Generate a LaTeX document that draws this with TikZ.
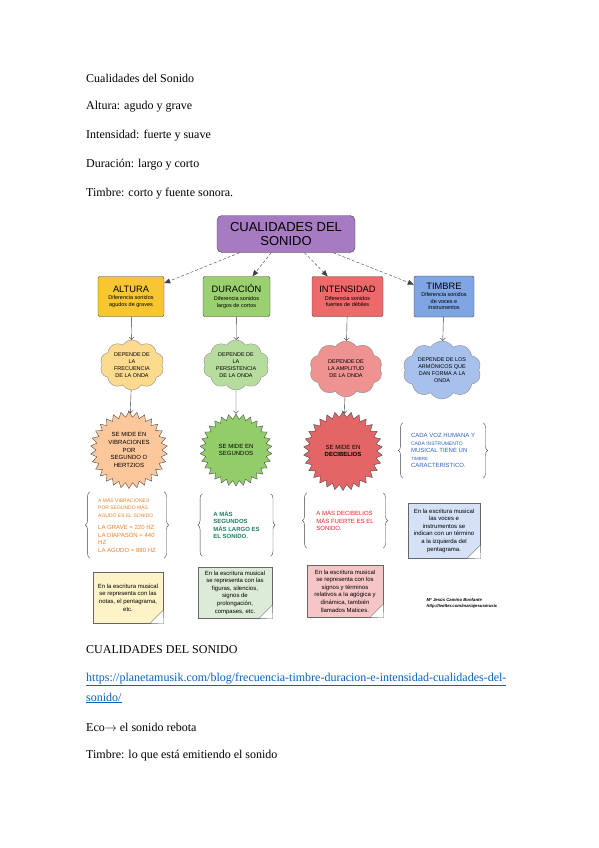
\documentclass[tikz,border=0pt]{standalone}
\usepackage{fontspec}
\setmainfont{Liberation Serif}
\newfontfamily\arial{Liberation Sans}
\usetikzlibrary{positioning}
\usetikzlibrary{shapes.geometric, shapes.symbols, arrows.meta, positioning, decorations.pathreplacing}

\definecolor{morado}{HTML}{A77BC2}
\definecolor{amarillo}{HTML}{F8C630}
\definecolor{verde}{HTML}{9AD06F}
\definecolor{rojo}{HTML}{EC6A6A}
\definecolor{azul}{HTML}{7FA5E2}
\definecolor{nubeAmarilla}{HTML}{FCDA8E}
\definecolor{nubeVerde}{HTML}{B7DD9E}
\definecolor{nubeRoja}{HTML}{EE9292}
\definecolor{nubeAzul}{HTML}{A8C1EC}
\definecolor{solNaranja}{HTML}{FCC79A}
\definecolor{solVerde}{HTML}{92CD69}
\definecolor{solRojo}{HTML}{E46565}
\definecolor{letraNaranja}{HTML}{F08020}
\definecolor{letraVerde}{HTML}{1E7D66}
\definecolor{letraRoja}{HTML}{E32222}
\definecolor{letraAzul}{HTML}{2E5FCF}
\definecolor{notaAmarilla}{HTML}{FDF3C7}
\definecolor{notaVerde}{HTML}{DCEBD8}
\definecolor{notaRoja}{HTML}{F6C6C6}
\definecolor{notaAzul}{HTML}{D4E1F6}
\definecolor{enlace}{HTML}{0563C1}

\tikzstyle{rama} = [densely dashed, black!75, -{Triangle[length=6pt,width=5pt]}]
\tikzstyle{flecha} = [black!80, -{Straight Barb[length=2.5pt,width=5pt]}]
\tikzstyle{caja} = [draw=black!75, rounded corners=2pt, align=center, inner sep=1pt, font=\arial\fontsize{5.5}{6.6}\selectfont]
\tikzstyle{nube} = [cloud, cloud puffs=10, cloud puff arc=115, cloud ignores aspect, draw=black!45, align=center, inner sep=0pt, font=\arial\fontsize{5.5}{7}\selectfont]
\tikzstyle{sol} = [star, star points=30, star point ratio=1.17, draw=black!70, align=center, inner sep=0pt, font=\arial\fontsize{6}{7.8}\selectfont]
\tikzstyle{llave} = [align=left, inner sep=0pt, font=\arial\fontsize{6}{7.5}\selectfont]
\tikzstyle{corchete} = [decorate, decoration={brace, amplitude=4.5pt}, black!75]
\tikzstyle{nota} = [draw=black!60, align=center, inner sep=0pt, font=\arial\fontsize{6}{7.6}\selectfont]
\tikzstyle{linea} = [anchor=west, inner sep=0pt, font=\fontsize{12}{20}\selectfont]

\begin{document}
\begin{tikzpicture}[x=1pt, y=-1pt]
    \fill[white] (0,0) rectangle (599,848);
    \useasboundingbox (0,0) rectangle (599,848);

    % Texto de la pagina
    \node[linea] (t1) at (86,78) {Cualidades del Sonido};
    \node[linea] (t2) at (86,107) {Altura: agudo y grave};
    \node[linea] (t3) at (86,136) {Intensidad: fuerte y suave};
    \node[linea] (t4) at (86,165) {Duración: largo y corto};
    \node[linea] (t5) at (86,194) {Timbre: corto y fuente sonora.};

    % Nodes
    \node[caja, fill=morado, rounded corners=5pt, minimum width=138pt, minimum height=37pt,
          font=\arial\fontsize{13}{14}\selectfont] (titulo) at (286,234) {CUALIDADES DEL\\SONIDO};

    \node[caja, fill=amarillo, minimum width=66pt, minimum height=40pt] (altura) at (131,296.5)
        {{\fontsize{9.3}{11}\selectfont ALTURA}\\[1pt]Diferencia sonidos\\agudos de graves};
    \node[caja, fill=verde, minimum width=67pt, minimum height=40pt] (duracion) at (236.5,296.5)
        {{\fontsize{9.3}{11}\selectfont DURACIÓN}\\[1pt]Diferencia sonidos\\largos de cortos};
    \node[caja, fill=rojo, minimum width=71pt, minimum height=40pt] (intensidad) at (347.5,296.5)
        {{\fontsize{9.3}{11}\selectfont INTENSIDAD}\\[1pt]Diferencia sonidos\\fuertes de débiles};
    \node[caja, fill=azul, minimum width=60pt, minimum height=41pt] (timbre) at (444,296.5)
        {{\fontsize{9.3}{11}\selectfont TIMBRE}\\[0.5pt]Diferencia sonidos\\de voces e\\instrumentos};

    \node[nube, fill=nubeAmarilla, minimum width=64pt, minimum height=50pt] (nubeAltura) at (132,365)
        {DEPENDE DE\\LA\\FRECUENCIA\\DE LA ONDA};
    \node[nube, fill=nubeVerde, minimum width=66pt, minimum height=50pt] (nubeDuracion) at (236,365)
        {DEPENDE DE\\LA\\PERSISTENCIA\\DE LA ONDA};
    \node[nube, fill=nubeRoja, minimum width=73pt, minimum height=56pt] (nubeIntensidad) at (346,369)
        {DEPENDE DE\\LA AMPLITUD\\DE LA ONDA};
    \node[nube, fill=nubeAzul, minimum width=78pt, minimum height=58pt] (nubeTimbre) at (442,370)
        {DEPENDE DE LOS\\ARMÓNICOS QUE\\DAN FORMA A LA\\ONDA};

    \node[sol, fill=solNaranja, minimum size=77pt] (solAltura) at (129,450)
        {SE MIDE EN\\VIBRACIONES\\POR\\SEGUNDO O\\HERTZIOS};
    \node[sol, fill=solVerde, minimum size=72pt] (solDuracion) at (236,450)
        {SE MIDE EN\\SEGUNDOS};
    \node[sol, fill=solRojo, minimum size=79pt] (solIntensidad) at (343,451)
        {SE MIDE EN\\\bfseries DECIBELIOS};

    \node[llave, text=letraAzul, minimum width=80pt, minimum height=55pt] (llaveTimbre) at (443,450.5)
        {CADA VOZ HUMANA Y\\{\fontsize{5}{7.5}\selectfont CADA INSTRUMENTO}\\MUSICAL TIENE UN\\{\fontsize{4.5}{7.5}\selectfont TIMBRE}\\CARACTERÍSTICO.};
    \node[llave, text=letraNaranja, minimum width=74pt, minimum height=66pt] (llaveAltura) at (127,525)
        {{\fontsize{5}{6}\selectfont A MÁS VIBRACIONES}\\{\fontsize{5}{6}\selectfont POR SEGUNDO MÁS}\\{\fontsize{5}{6}\selectfont AGUDO ES EL SONIDO}\\[5pt]
         LA GRAVE = 220 HZ\\LA DIAPASÓN = 440\\HZ\\LA AGUDO = 880 HZ};
    \node[llave, text=letraVerde, font=\arial\bfseries\fontsize{6}{7.5}\selectfont, minimum width=68pt, minimum height=62pt] (llaveDuracion) at (236.5,525)
        {A MÁS\\SEGUNDOS\\ MÁS LARGO ES\\EL SONIDO.};
    \node[llave, text=letraRoja, minimum width=76pt, minimum height=55pt] (llaveIntensidad) at (345,520.5)
        {A MÁS DECIBELIOS\\MÁS FUERTE ES EL\\SONIDO.};

    \node[nota, fill=notaAzul, minimum width=72pt, minimum height=55pt] (notaTimbre) at (444,530.5)
        {En la escritura musical\\las voces e\\instrumentos se\\indican con un término\\a la izquierda del\\pentagrama.};
    \node[nota, fill=notaAmarilla, minimum width=70pt, minimum height=51pt] (notaAltura) at (128,597.5)
        {En la escritura musical\\se representa con las\\notas, el pentagrama,\\etc.};
    \node[nota, fill=notaVerde, minimum width=74pt, minimum height=51pt] (notaDuracion) at (235,592.5)
        {En la escritura musical\\se representa con las\\figuras, silencios,\\signos de\\prolongación,\\compases, etc.};
    \node[nota, fill=notaRoja, minimum width=76pt, minimum height=52pt] (notaIntensidad) at (345,591)
        {En la escritura musical\\se representa con los\\signos y términos\\relativos a la agógica y\\dinámica, también\\llamados Matices.};

    \node[align=left, inner sep=0pt, font=\arial\bfseries\itshape\fontsize{4.3}{6}\selectfont] (credito) at (462,603)
        {Mª Jesús Camino Bonfante\\http://twitter.com/mariajesusmusic};

    % Llaves y esquinas dobladas
    \foreach \n in {llaveTimbre, llaveAltura, llaveDuracion, llaveIntensidad} {
        \draw[corchete] (\n.south west) -- (\n.north west);
        \draw[corchete] (\n.north east) -- (\n.south east);
    }
    \foreach \n in {notaTimbre, notaAltura, notaDuracion, notaIntensidad} {
        \fill[white] ([xshift=-13pt]\n.south east) -- ([xshift=0.5pt,yshift=-0.5pt]\n.south east) -- ([yshift=13pt]\n.south east) -- cycle;
        \filldraw[fill=white, draw=black!60] ([xshift=-13pt]\n.south east) -- ([yshift=13pt]\n.south east)
            -- ([xshift=-8pt,yshift=5pt]\n.south east) -- cycle;
    }

    % Edges
    \draw[rama] (titulo) -- (altura);
    \draw[rama] (titulo) -- (duracion);
    \draw[rama] (titulo) -- (intensidad);
    \draw[rama] (titulo) -- (timbre);

    \draw[flecha] (altura) -- (nubeAltura);
    \draw[flecha] (duracion) -- (nubeDuracion);
    \draw[flecha] (intensidad) -- (nubeIntensidad);
    \draw[flecha] (timbre) -- (nubeTimbre);
    \draw[flecha] (nubeAltura) -- (solAltura);
    \draw[flecha] (nubeDuracion) -- (solDuracion);
    \draw[flecha] (nubeIntensidad) -- (solIntensidad);

    % Texto final
    \node[linea] (t6) at (86,650) {CUALIDADES DEL SONIDO};
    \node[linea, align=left, text=enlace] (t7) at (86,688)
        {\underline{https://planetamusik.com/blog/frecuencia-timbre-duracion-e-intensidad-cualidades-del-}\\\underline{sonido/}};
    \node[linea] (t8) at (86,727) {Eco$\rightarrow$ el sonido rebota};
    \node[linea] (t9) at (86,756) {Timbre: lo que está emitiendo el sonido};
\end{tikzpicture}
\end{document}
